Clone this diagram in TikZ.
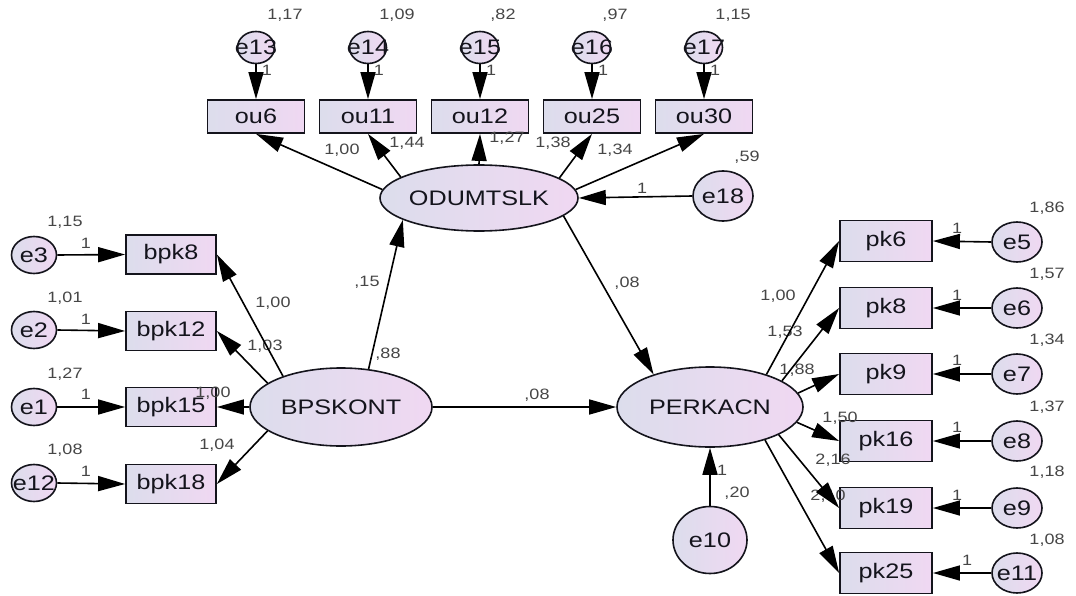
\documentclass[tikz,border=0pt]{standalone}
\usepackage{fontspec}
\newfontfamily\amosfont[FakeStretch=1.2]{Liberation Sans}
\usetikzlibrary{shapes.geometric,arrows.meta}
\definecolor{fillL}{RGB}{220,221,236}
\definecolor{fillR}{RGB}{240,216,242}
\definecolor{lblc}{RGB}{70,70,70}
\definecolor{inkc}{RGB}{20,20,28}
\newcommand\nodefnt{\amosfont\fontsize{21}{24}\selectfont}
\newcommand\lblfnt{\amosfont\fontsize{15}{17}\selectfont}
\begin{document}
\begin{tikzpicture}[x=1pt,y=-1pt,
  obsbox/.style={draw=inkc,line width=1.8pt,left color=fillL,right color=fillR,inner sep=0pt,font=\nodefnt,text=inkc},
  latent/.style={ellipse,draw=inkc,line width=1.6pt,left color=fillL,right color=fillR,inner sep=0pt,font=\nodefnt,text=inkc},
  errc/.style={ellipse,draw=inkc,line width=1.6pt,left color=fillL,right color=fillR,inner sep=0pt,font=\nodefnt,text=inkc},
  arr/.style={draw=black,line width=1.6pt,-{Triangle[length=27pt,width=15pt]}},
  lbl/.style={font=\lblfnt,text=lblc,inner sep=0pt}]
\fill[white] (0,0) rectangle (1076,596);
\useasboundingbox (0,0) rectangle (1076,596);

% top error terms and indicators
\foreach \n/\x in {e13/256,e14/368,e15/480,e16/592,e17/704}
  \node[errc,minimum width=37pt,minimum height=32pt] (\n) at (\x,47.5) {\makebox[0pt]{\n}};
\foreach \n/\x in {ou6/256,ou11/368,ou12/480,ou25/592,ou30/704}
  \node[obsbox,minimum width=97pt,minimum height=33pt] (\n) at (\x,116.5) {\n};

% latent variables
\node[latent,minimum width=192pt,minimum height=66pt] (od) at (479,198) {ODUMTSLK};
\node[latent,minimum width=182pt,minimum height=78pt] (bps) at (341,407) {BPSKONT};
\node[latent,minimum width=186pt,minimum height=80pt] (per) at (710,407) {PERKACN};
\node[errc,minimum width=60pt,minimum height=50pt] (e18) at (723,196) {\makebox[0pt]{e18}};
\node[errc,minimum width=74pt,minimum height=67pt] (e10) at (710,540) {\makebox[0pt]{e10}};

% left indicators
\foreach \n/\y in {bpk8/254.5,bpk12/331,bpk15/407,bpk18/484}
  \node[obsbox,minimum width=90pt,minimum height=39pt] (\n) at (171,\y) {\n};
\foreach \n/\y in {e3/255,e2/330,e1/407,e12/483}
  \node[errc,minimum width=45pt,minimum height=37pt] (\n) at (34,\y) {\makebox[0pt]{\n}};

% right indicators
\foreach \n/\y in {pk6/241,pk8/308,pk9/374,pk16/441,pk19/508,pk25/573}
  \node[obsbox,minimum width=92pt,minimum height=41pt] (\n) at (886,\y) {\n};
\foreach \n/\y in {e5/242,e6/308,e7/374,e8/441,e9/508,e11/573}
  \node[errc,minimum width=50pt,minimum height=40pt] (\n) at (1017,\y) {\makebox[0pt]{\n}};

% labels
\foreach \t/\x in {{1,17}/285,{1,09}/397,{,82}/503,{,97}/615,{1,15}/733}
  \node[lbl] at (\x,15) {\t};
\foreach \x in {267,379,491,603,715}
  \node[lbl] at (\x,70) {1};
\node[lbl] at (342,150) {1,00};
\node[lbl] at (407,143) {1,44};
\node[lbl] at (507,138) {1,27};
\node[lbl] at (553,143) {1,38};
\node[lbl] at (615,150) {1,34};
\node[lbl] at (642,188) {1};
\node[lbl] at (747,157) {,59};
\node[lbl] at (367,282) {,15};
\node[lbl] at (388,354) {,88};
\node[lbl] at (627,283) {,08};
\node[lbl] at (537,395) {,08};
\node[lbl] at (65,222) {1,15};
\node[lbl] at (65,298) {1,01};
\node[lbl] at (65,374) {1,27};
\node[lbl] at (65,450) {1,08};
\foreach \y in {243,319,394,471}
  \node[lbl] at (86,\y) {1};
\node[lbl] at (273,303) {1,00};
\node[lbl] at (265,346) {1,03};
\node[lbl] at (213,393) {1,00};
\node[lbl] at (217,445) {1,04};
\node[lbl] at (778,296) {1,00};
\node[lbl] at (785,332) {1,53};
\node[lbl] at (797,370) {1,88};
\node[lbl] at (840,418) {1,50};
\node[lbl] at (833,460) {2,16};
\node[lbl] at (828,496) {2,10};
\foreach \y in {228,295,360,427,495}
  \node[lbl] at (957,\y) {1};
\node[lbl] at (967,560) {1};
\node[lbl] at (1047,208) {1,86};
\node[lbl] at (1047,274) {1,57};
\node[lbl] at (1047,340) {1,34};
\node[lbl] at (1047,407) {1,37};
\node[lbl] at (1047,472) {1,18};
\node[lbl] at (1047,540) {1,08};
\node[lbl] at (722,470) {1};
\node[lbl] at (737,493) {,20};

% connectors
\draw[arr] (e13.south) -- (ou6.north);
\draw[arr] (e14.south) -- (ou11.north);
\draw[arr] (e15.south) -- (ou12.north);
\draw[arr] (e16.south) -- (ou25.north);
\draw[arr] (e17.south) -- (ou30.north);
\draw[arr] (od.175) -- (ou6.south);
\draw[arr] (od.165) -- (ou11.south);
\draw[arr] (od.north) -- (ou12.south);
\draw[arr] (od.14) -- (ou25.south);
\draw[arr] (od.5) -- (ou30.south);
\draw[arr] (e18.west) -- (od.east);
\draw[arr] (bps.54) -- (od.196);
\draw[arr] (bps.east) -- (per.west);
\draw[arr] (od.-12) -- (per.150);
\draw[arr] (e10.north) -- (per.south);
\draw[arr] (bps.152) -- (bpk8.east);
\draw[arr] (bps.162.5) -- (bpk12.east);
\draw[arr] (bps.west) -- (bpk15.east);
\draw[arr] (bps.198) -- (bpk18.east);
\draw[arr] (e3.east) -- (bpk8.west);
\draw[arr] (e2.east) -- (bpk12.west);
\draw[arr] (e1.east) -- (bpk15.west);
\draw[arr] (e12.east) -- (bpk18.west);
\draw[arr] (per.30) -- (pk6.west);
\draw[arr] (per.20) -- (pk8.west);
\draw[arr] (per.9) -- (pk9.west);
\draw[arr] (per.-10) -- (pk16.west);
\draw[arr] (per.-22) -- (pk19.west);
\draw[arr] (per.-31) -- (pk25.west);
\draw[arr] (e5.west) -- (pk6.east);
\draw[arr] (e6.west) -- (pk8.east);
\draw[arr] (e7.west) -- (pk9.east);
\draw[arr] (e8.west) -- (pk16.east);
\draw[arr] (e9.west) -- (pk19.east);
\draw[arr] (e11.west) -- (pk25.east);
\end{tikzpicture}
\end{document}
